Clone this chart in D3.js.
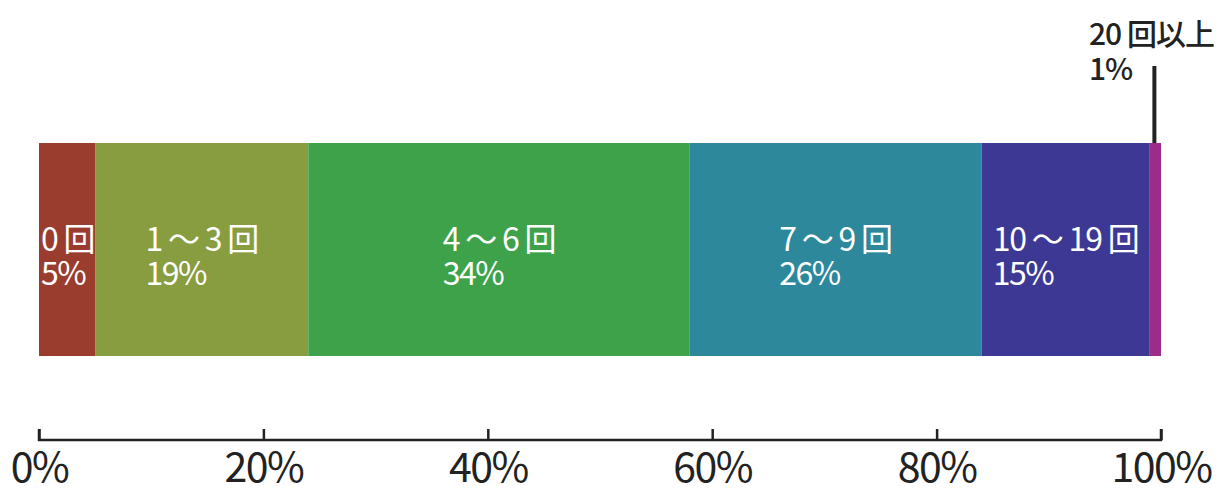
<!DOCTYPE html>
<html>
<head>
<meta charset="utf-8">
<script src="https://cdn.jsdelivr.net/npm/d3@7"></script>
<style>
  body { margin: 0; background: #fff; }
  svg text { font-family: "Noto Sans CJK JP", "Noto Sans", sans-serif; }
</style>
</head>
<body>
<div id="chart"></div>
<script>
// 回数カテゴリ と 割合(%)
var categories = ["0 回", "1 〜 3 回", "4 〜 6 回", "7 〜 9 回", "10 〜 19 回", "20 回以上"];
var shares = [5, 19, 34, 26, 15, 1];
var colors = ["#9a3d2e", "#889c40", "#3da249", "#2d889c", "#3d3894", "#9a2d8a"];
var tickValues = [0, 20, 40, 60, 80, 100];

var width = 1221, height = 489;
var margin = { left: 39, right: 60 };

var svg = d3.select("#chart")
    .append("svg")
    .attr("width", width)
    .attr("height", height);

var x = d3.scaleLinear()
    .domain([0, 100])
    .range([margin.left, width - margin.right]);

var y = d3.scaleBand()
    .domain(["bar"])
    .range([143, 356])
    .padding(0);

// 누적 위치 계산
var acc = 0;
var segs = categories.map(function (c, i) {
    var s = { name: c, value: shares[i], color: colors[i], x0: acc, x1: acc + shares[i] };
    acc += shares[i];
    return s;
});

svg.append("g")
    .selectAll("rect")
    .data(segs)
    .enter()
    .append("rect")
    .attr("x", function (d) { return x(d.x0); })
    .attr("y", y("bar"))
    .attr("width", function (d) { return x(d.x1) - x(d.x0); })
    .attr("height", y.bandwidth())
    .style("fill", function (d) { return d.color; });

// inside labels (all but the last small one)
var inner = segs.slice(0, segs.length - 1);
var lab = svg.append("g")
    .selectAll("g")
    .data(inner)
    .enter()
    .append("g");

lab.append("text")
    .attr("class", "l1")
    .attr("y", 251)
    .style("font-size", "32px")
    .style("fill", "#fff")
    .style("letter-spacing", "-1.2px")
    .text(function (d) { return d.name; });

lab.append("text")
    .attr("y", 285)
    .style("font-size", "32px")
    .style("fill", "#fff")
    .style("letter-spacing", "-1.5px")
    .text(function (d) { return d.value + "%"; });

lab.each(function (d) {
    var w = d3.select(this).select(".l1").node().getComputedTextLength();
    var cx = (x(d.x0) + x(d.x1)) / 2;
    var lx = Math.max(cx - w / 2, x(d.x0) + 2);
    d3.select(this).selectAll("text").attr("x", lx);
});

// last segment: label above with leader line
var last = segs[segs.length - 1];
var lastCx = (x(last.x0) + x(last.x1)) / 2;
svg.append("line")
    .attr("x1", lastCx - 1)
    .attr("x2", lastCx - 1)
    .attr("y1", 66)
    .attr("y2", y("bar"))
    .style("stroke", "#222")
    .style("stroke-width", 4);

svg.append("text")
    .attr("x", 1089)
    .attr("y", 45)
    .style("font-size", "30px")
    .style("font-weight", 500)
    .style("fill", "#222")
    .style("letter-spacing", "-1px")
    .text(last.name);

svg.append("text")
    .attr("x", 1089)
    .attr("y", 80)
    .style("font-size", "30px")
    .style("font-weight", 500)
    .style("fill", "#222")
    .style("letter-spacing", "-1px")
    .text(last.value + "%");

// axis
var axis = svg.append("g")
    .attr("transform", "translate(0,440)")
    .call(d3.axisBottom(x)
        .tickValues(tickValues)
        .tickSize(-11)
        .tickPadding(0)
        .tickSizeOuter(-11)
        .tickFormat(function (d) { return d + "%"; }));

axis.select(".domain")
    .attr("d", "M" + x(0) + ",-11V0H" + x(100) + "V-11")
    .style("stroke", "#222")
    .style("stroke-width", 2.5);
axis.selectAll(".tick line")
    .style("stroke", "#222")
    .style("stroke-width", 2.5);
axis.selectAll(".tick text")
    .attr("y", 42)
    .attr("dy", 0)
    .style("font-size", "41px")
    .style("font-family", "\"Noto Sans CJK JP\", sans-serif")
    .style("fill", "#222")
    .style("letter-spacing", "-1.5px");
</script>
</body>
</html>
